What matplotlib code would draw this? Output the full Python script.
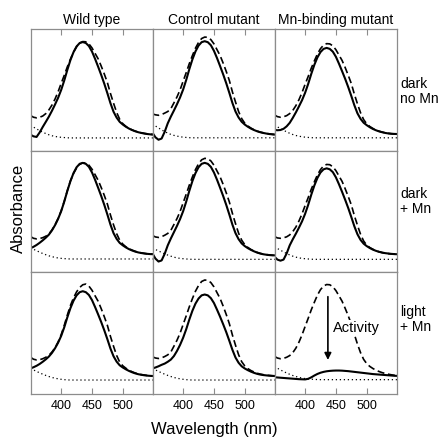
import matplotlib
matplotlib.use("Agg")
import matplotlib.pyplot as plt

plt.rcParams['font.family'] = ['Liberation Sans', 'DejaVu Sans']

# wavelength grid (nm), 350..550 every 5 nm
wavelength = [350, 355, 360, 365, 370, 375, 380, 385, 390, 395,
              400, 405, 410, 415, 420, 425, 430, 435, 440, 445,
              450, 455, 460, 465, 470, 475, 480, 485, 490, 495,
              500, 505, 510, 515, 520, 525, 530, 535, 540, 545, 550]

col_titles = ["Wild type", "Control mutant", "Mn-binding mutant"]
row_labels = ["dark\nno Mn", "dark\n+ Mn", "light\n+ Mn"]
xticks = [400, 450, 500]

# ---- row 1: dark, no Mn ----
solid_wt_dark = [0.132, 0.118, 0.113, 0.15, 0.195, 0.237, 0.28, 0.328, 0.38, 0.435,
                 0.50, 0.578, 0.665, 0.745, 0.81, 0.857, 0.885, 0.893, 0.885, 0.86,
                 0.815, 0.755, 0.69, 0.622, 0.55, 0.472, 0.39, 0.32, 0.272, 0.237,
                 0.215, 0.197, 0.182, 0.17, 0.16, 0.152, 0.146, 0.141, 0.137, 0.134, 0.132]
dashed_wt_dark = [0.29, 0.275, 0.27, 0.275, 0.285, 0.305, 0.335, 0.375, 0.425, 0.485,
                  0.554, 0.62, 0.69, 0.752, 0.81, 0.855, 0.885, 0.897, 0.895, 0.878,
                  0.845, 0.80, 0.755, 0.695, 0.63, 0.56, 0.47, 0.39, 0.315, 0.258,
                  0.222, 0.20, 0.184, 0.171, 0.161, 0.153, 0.147, 0.142, 0.138, 0.135, 0.133]
dotted_wt_dark = [0.209, 0.194, 0.179, 0.165, 0.152, 0.141, 0.131, 0.123, 0.117, 0.113,
                  0.11, 0.108, 0.106, 0.105, 0.105, 0.105, 0.105, 0.105, 0.105, 0.105,
                  0.105, 0.105, 0.105, 0.105, 0.105, 0.105, 0.105, 0.105, 0.105, 0.105,
                  0.105, 0.105, 0.105, 0.105, 0.105, 0.105, 0.105, 0.105, 0.105, 0.105, 0.105]

solid_ctl_dark = [0.149, 0.11, 0.09, 0.10, 0.155, 0.225, 0.28, 0.33, 0.382, 0.438,
                  0.503, 0.582, 0.67, 0.75, 0.816, 0.864, 0.892, 0.90, 0.892, 0.867,
                  0.821, 0.761, 0.695, 0.627, 0.554, 0.475, 0.392, 0.322, 0.273, 0.238,
                  0.215, 0.197, 0.182, 0.17, 0.16, 0.152, 0.146, 0.141, 0.137, 0.134, 0.132]
dashed_ctl_dark = [0.303, 0.295, 0.291, 0.297, 0.309, 0.322, 0.345, 0.393, 0.442, 0.50,
                   0.572, 0.642, 0.716, 0.782, 0.843, 0.89, 0.922, 0.934, 0.932, 0.913,
                   0.878, 0.83, 0.782, 0.719, 0.651, 0.577, 0.483, 0.40, 0.322, 0.264,
                   0.226, 0.203, 0.186, 0.172, 0.161, 0.153, 0.147, 0.142, 0.138, 0.135, 0.133]
dotted_ctl_dark = [0.22, 0.203, 0.187, 0.171, 0.157, 0.145, 0.134, 0.126, 0.12, 0.115,
                   0.111, 0.109, 0.107, 0.106, 0.106, 0.106, 0.106, 0.106, 0.106, 0.106,
                   0.106, 0.106, 0.106, 0.106, 0.106, 0.106, 0.106, 0.106, 0.106, 0.106,
                   0.106, 0.106, 0.106, 0.106, 0.106, 0.106, 0.106, 0.106, 0.106, 0.106, 0.106]

solid_mn_dark = [0.171, 0.168, 0.17, 0.18, 0.20, 0.229, 0.27, 0.315, 0.364, 0.415,
                 0.476, 0.549, 0.631, 0.706, 0.767, 0.811, 0.837, 0.845, 0.837, 0.814,
                 0.772, 0.715, 0.654, 0.591, 0.523, 0.45, 0.373, 0.307, 0.262, 0.23,
                 0.21, 0.193, 0.179, 0.168, 0.159, 0.152, 0.146, 0.142, 0.139, 0.138, 0.137]
dashed_mn_dark = [0.295, 0.28, 0.275, 0.279, 0.288, 0.305, 0.331, 0.37, 0.419, 0.478,
                  0.546, 0.61, 0.678, 0.738, 0.795, 0.839, 0.868, 0.88, 0.878, 0.862,
                  0.83, 0.786, 0.742, 0.684, 0.62, 0.552, 0.464, 0.385, 0.312, 0.256,
                  0.221, 0.199, 0.183, 0.17, 0.16, 0.153, 0.147, 0.143, 0.14, 0.138, 0.137]
dotted_mn_dark = [0.21, 0.196, 0.182, 0.168, 0.155, 0.143, 0.133, 0.125, 0.119, 0.115,
                  0.111, 0.109, 0.107, 0.106, 0.106, 0.106, 0.106, 0.106, 0.106, 0.106,
                  0.106, 0.106, 0.106, 0.106, 0.106, 0.106, 0.106, 0.106, 0.106, 0.106,
                  0.106, 0.106, 0.106, 0.106, 0.106, 0.106, 0.106, 0.106, 0.106, 0.106, 0.106]

# ---- row 2: dark, + Mn ----
solid_wt_mn = [0.198, 0.21, 0.225, 0.243, 0.263, 0.285, 0.31, 0.345, 0.388, 0.44,
               0.503, 0.582, 0.67, 0.75, 0.816, 0.864, 0.892, 0.90, 0.892, 0.867,
               0.821, 0.761, 0.695, 0.627, 0.554, 0.475, 0.392, 0.322, 0.275, 0.242,
               0.222, 0.205, 0.191, 0.18, 0.171, 0.164, 0.159, 0.155, 0.152, 0.15, 0.149]
dashed_wt_mn = [0.295, 0.28, 0.275, 0.278, 0.285, 0.297, 0.315, 0.348, 0.39, 0.443,
                0.506, 0.585, 0.672, 0.752, 0.813, 0.858, 0.888, 0.90, 0.898, 0.881,
                0.848, 0.803, 0.757, 0.697, 0.632, 0.561, 0.471, 0.39, 0.318, 0.264,
                0.232, 0.21, 0.195, 0.183, 0.173, 0.165, 0.16, 0.156, 0.152, 0.15, 0.149]
dotted_wt_mn = [0.20, 0.19, 0.178, 0.166, 0.155, 0.145, 0.136, 0.129, 0.123, 0.118,
                0.115, 0.113, 0.111, 0.11, 0.11, 0.11, 0.11, 0.11, 0.11, 0.11,
                0.11, 0.11, 0.11, 0.11, 0.11, 0.11, 0.11, 0.11, 0.11, 0.11,
                0.11, 0.11, 0.11, 0.11, 0.11, 0.11, 0.11, 0.11, 0.11, 0.11, 0.11]

solid_ctl_mn = [0.157, 0.113, 0.089, 0.098, 0.152, 0.222, 0.278, 0.33, 0.382, 0.438,
                0.503, 0.582, 0.67, 0.75, 0.816, 0.864, 0.892, 0.90, 0.892, 0.867,
                0.821, 0.761, 0.695, 0.627, 0.554, 0.475, 0.392, 0.322, 0.273, 0.238,
                0.216, 0.199, 0.185, 0.173, 0.163, 0.155, 0.149, 0.145, 0.142, 0.14, 0.14]
dashed_ctl_mn = [0.303, 0.291, 0.287, 0.293, 0.305, 0.32, 0.345, 0.393, 0.442, 0.50,
                 0.572, 0.643, 0.717, 0.784, 0.845, 0.892, 0.925, 0.937, 0.935, 0.916,
                 0.881, 0.833, 0.785, 0.722, 0.653, 0.578, 0.484, 0.40, 0.322, 0.265,
                 0.228, 0.205, 0.188, 0.175, 0.164, 0.156, 0.15, 0.146, 0.143, 0.141, 0.14]
dotted_ctl_mn = [0.20, 0.188, 0.176, 0.164, 0.152, 0.142, 0.133, 0.125, 0.119, 0.115,
                 0.112, 0.11, 0.108, 0.107, 0.107, 0.107, 0.107, 0.107, 0.107, 0.107,
                 0.107, 0.107, 0.107, 0.107, 0.107, 0.107, 0.107, 0.107, 0.107, 0.107,
                 0.107, 0.107, 0.107, 0.107, 0.107, 0.107, 0.107, 0.107, 0.107, 0.107, 0.107]

solid_mn_mn = [0.13, 0.105, 0.096, 0.105, 0.155, 0.222, 0.272, 0.318, 0.367, 0.419,
               0.481, 0.555, 0.638, 0.714, 0.776, 0.821, 0.847, 0.855, 0.847, 0.824,
               0.781, 0.724, 0.662, 0.597, 0.529, 0.455, 0.378, 0.313, 0.267, 0.236,
               0.216, 0.20, 0.187, 0.177, 0.169, 0.163, 0.158, 0.155, 0.152, 0.15, 0.149]
dashed_mn_mn = [0.295, 0.283, 0.28, 0.284, 0.292, 0.308, 0.335, 0.372, 0.422, 0.481,
                0.549, 0.614, 0.683, 0.744, 0.801, 0.845, 0.875, 0.887, 0.885, 0.868,
                0.836, 0.792, 0.748, 0.688, 0.624, 0.555, 0.466, 0.387, 0.313, 0.258,
                0.224, 0.204, 0.19, 0.178, 0.169, 0.162, 0.157, 0.154, 0.151, 0.15, 0.149]
dotted_mn_mn = [0.21, 0.196, 0.182, 0.168, 0.155, 0.143, 0.133, 0.125, 0.119, 0.115,
                0.112, 0.11, 0.108, 0.107, 0.107, 0.107, 0.107, 0.107, 0.107, 0.107,
                0.107, 0.107, 0.107, 0.107, 0.107, 0.107, 0.107, 0.107, 0.107, 0.107,
                0.107, 0.107, 0.107, 0.107, 0.107, 0.107, 0.107, 0.107, 0.107, 0.107, 0.107]

# ---- row 3: light, + Mn ----
solid_wt_light = [0.21, 0.22, 0.232, 0.247, 0.265, 0.285, 0.308, 0.338, 0.376, 0.422,
                  0.478, 0.549, 0.631, 0.706, 0.767, 0.811, 0.837, 0.845, 0.837, 0.814,
                  0.772, 0.715, 0.654, 0.591, 0.523, 0.45, 0.373, 0.31, 0.266, 0.236,
                  0.218, 0.203, 0.19, 0.179, 0.17, 0.163, 0.158, 0.154, 0.151, 0.149, 0.148]
dashed_wt_light = [0.303, 0.286, 0.28, 0.282, 0.29, 0.302, 0.318, 0.345, 0.38, 0.428,
                   0.488, 0.565, 0.65, 0.728, 0.79, 0.84, 0.876, 0.898, 0.904, 0.887,
                   0.853, 0.807, 0.762, 0.701, 0.635, 0.564, 0.473, 0.392, 0.317, 0.262,
                   0.232, 0.212, 0.196, 0.183, 0.173, 0.165, 0.16, 0.156, 0.152, 0.15, 0.148]
dotted_wt_light = [0.21, 0.198, 0.186, 0.174, 0.163, 0.153, 0.144, 0.136, 0.13, 0.125,
                   0.121, 0.118, 0.116, 0.115, 0.115, 0.115, 0.115, 0.115, 0.115, 0.115,
                   0.115, 0.115, 0.115, 0.115, 0.115, 0.115, 0.115, 0.115, 0.115, 0.115,
                   0.115, 0.115, 0.115, 0.115, 0.115, 0.115, 0.115, 0.115, 0.115, 0.115, 0.115]

solid_ctl_light = [0.21, 0.218, 0.228, 0.24, 0.25, 0.265, 0.283, 0.312, 0.354, 0.404,
                   0.463, 0.533, 0.612, 0.684, 0.743, 0.785, 0.811, 0.818, 0.811, 0.788,
                   0.748, 0.693, 0.635, 0.573, 0.508, 0.437, 0.363, 0.30, 0.257, 0.228,
                   0.21, 0.196, 0.184, 0.174, 0.166, 0.16, 0.156, 0.153, 0.151, 0.149, 0.148]
dashed_ctl_light = [0.306, 0.296, 0.292, 0.297, 0.308, 0.322, 0.345, 0.393, 0.442, 0.50,
                    0.572, 0.643, 0.717, 0.784, 0.845, 0.892, 0.925, 0.937, 0.935, 0.916,
                    0.881, 0.833, 0.785, 0.722, 0.653, 0.578, 0.484, 0.401, 0.323, 0.266,
                    0.231, 0.209, 0.193, 0.181, 0.171, 0.164, 0.159, 0.155, 0.152, 0.15, 0.148]
dotted_ctl_light = [0.21, 0.198, 0.186, 0.174, 0.163, 0.153, 0.144, 0.136, 0.13, 0.125,
                    0.121, 0.118, 0.116, 0.115, 0.115, 0.115, 0.115, 0.115, 0.115, 0.115,
                    0.115, 0.115, 0.115, 0.115, 0.115, 0.115, 0.115, 0.115, 0.115, 0.115,
                    0.115, 0.115, 0.115, 0.115, 0.115, 0.115, 0.115, 0.115, 0.115, 0.115, 0.115]

solid_mn_light = [0.138, 0.136, 0.134, 0.132, 0.13, 0.128, 0.126, 0.124, 0.122, 0.121,
                  0.12, 0.125, 0.137, 0.152, 0.165, 0.175, 0.182, 0.187, 0.19, 0.192,
                  0.193, 0.193, 0.192, 0.19, 0.188, 0.185, 0.182, 0.179, 0.176, 0.173,
                  0.17, 0.167, 0.164, 0.162, 0.16, 0.158, 0.156, 0.154, 0.152, 0.15, 0.149]
dashed_mn_light = [0.31, 0.296, 0.29, 0.293, 0.302, 0.316, 0.34, 0.377, 0.426, 0.486,
                   0.555, 0.622, 0.692, 0.754, 0.813, 0.858, 0.888, 0.90, 0.898, 0.882,
                   0.85, 0.807, 0.763, 0.705, 0.643, 0.575, 0.49, 0.41, 0.34, 0.285,
                   0.25, 0.227, 0.21, 0.196, 0.185, 0.176, 0.169, 0.163, 0.158, 0.154, 0.15]
dotted_mn_light = [0.226, 0.212, 0.198, 0.185, 0.173, 0.162, 0.152, 0.144, 0.137, 0.131,
                   0.127, 0.124, 0.122, 0.12, 0.119, 0.118, 0.118, 0.118, 0.118, 0.118,
                   0.118, 0.118, 0.118, 0.118, 0.118, 0.118, 0.118, 0.118, 0.118, 0.118,
                   0.118, 0.118, 0.118, 0.118, 0.118, 0.118, 0.118, 0.118, 0.118, 0.118, 0.118]

solid = [[solid_wt_dark, solid_ctl_dark, solid_mn_dark],
         [solid_wt_mn, solid_ctl_mn, solid_mn_mn],
         [solid_wt_light, solid_ctl_light, solid_mn_light]]
dashed = [[dashed_wt_dark, dashed_ctl_dark, dashed_mn_dark],
          [dashed_wt_mn, dashed_ctl_mn, dashed_mn_mn],
          [dashed_wt_light, dashed_ctl_light, dashed_mn_light]]
dotted = [[dotted_wt_dark, dotted_ctl_dark, dotted_mn_dark],
          [dotted_wt_mn, dotted_ctl_mn, dotted_mn_mn],
          [dotted_wt_light, dotted_ctl_light, dotted_mn_light]]

row_label_y = [0.49, 0.585, 0.61]

fig, axes = plt.subplots(3, 3, figsize=(4.4, 4.4), dpi=100, sharex=True, sharey=True)
fig.subplots_adjust(left=0.0705, right=0.902, bottom=0.1045, top=0.934,
                    wspace=0, hspace=0)

grey = '#8c8c8c'
for r in range(3):
    for c in range(3):
        ax = axes[r, c]
        ax.plot(wavelength, dotted[r][c], color='black', lw=0.9, linestyle=(0, (1, 2.2)))
        ax.plot(wavelength, dashed[r][c], color='black', lw=1.2, linestyle=(0, (4.2, 2.2)))
        ax.plot(wavelength, solid[r][c], color='black', lw=1.5)
        ax.set_xlim(351, 549)
        ax.set_ylim(0, 1)
        ax.set_yticks([])
        for sp in ax.spines.values():
            sp.set_color(grey)
            sp.set_linewidth(0.9)
        ax.set_xticks(xticks)
        ax.tick_params(axis='x', direction='in', length=4, color=grey,
                       labelsize=9, pad=4,
                       top=(r == 0), bottom=(r == 2),
                       labeltop=False, labelbottom=(r == 2))
        if r == 0:
            ax.set_title(col_titles[c], fontsize=10, pad=3.5)
    axes[r, 2].text(1.025, row_label_y[r], row_labels[r], transform=axes[r, 2].transAxes,
                    ha='left', va='center', fontsize=10, linespacing=1.1)

# activity arrow in the light / Mn-binding panel
ax = axes[2, 2]
ax.annotate('', xy=(437, 0.28), xytext=(437, 0.80),
            arrowprops=dict(arrowstyle='-|>', color='black', lw=1.2,
                            mutation_scale=10, shrinkA=0, shrinkB=0))
ax.text(445, 0.545, 'Activity', ha='left', va='center', fontsize=10.5, zorder=5,
        bbox=dict(facecolor='white', edgecolor='none', pad=0.5))

fig.text(0.043, 0.527, 'Absorbance', rotation=90, ha='center', va='center', fontsize=12)
fig.text(0.486, 0.025, 'Wavelength (nm)', ha='center', va='center', fontsize=12)

fig.savefig('out.png', dpi=100)
